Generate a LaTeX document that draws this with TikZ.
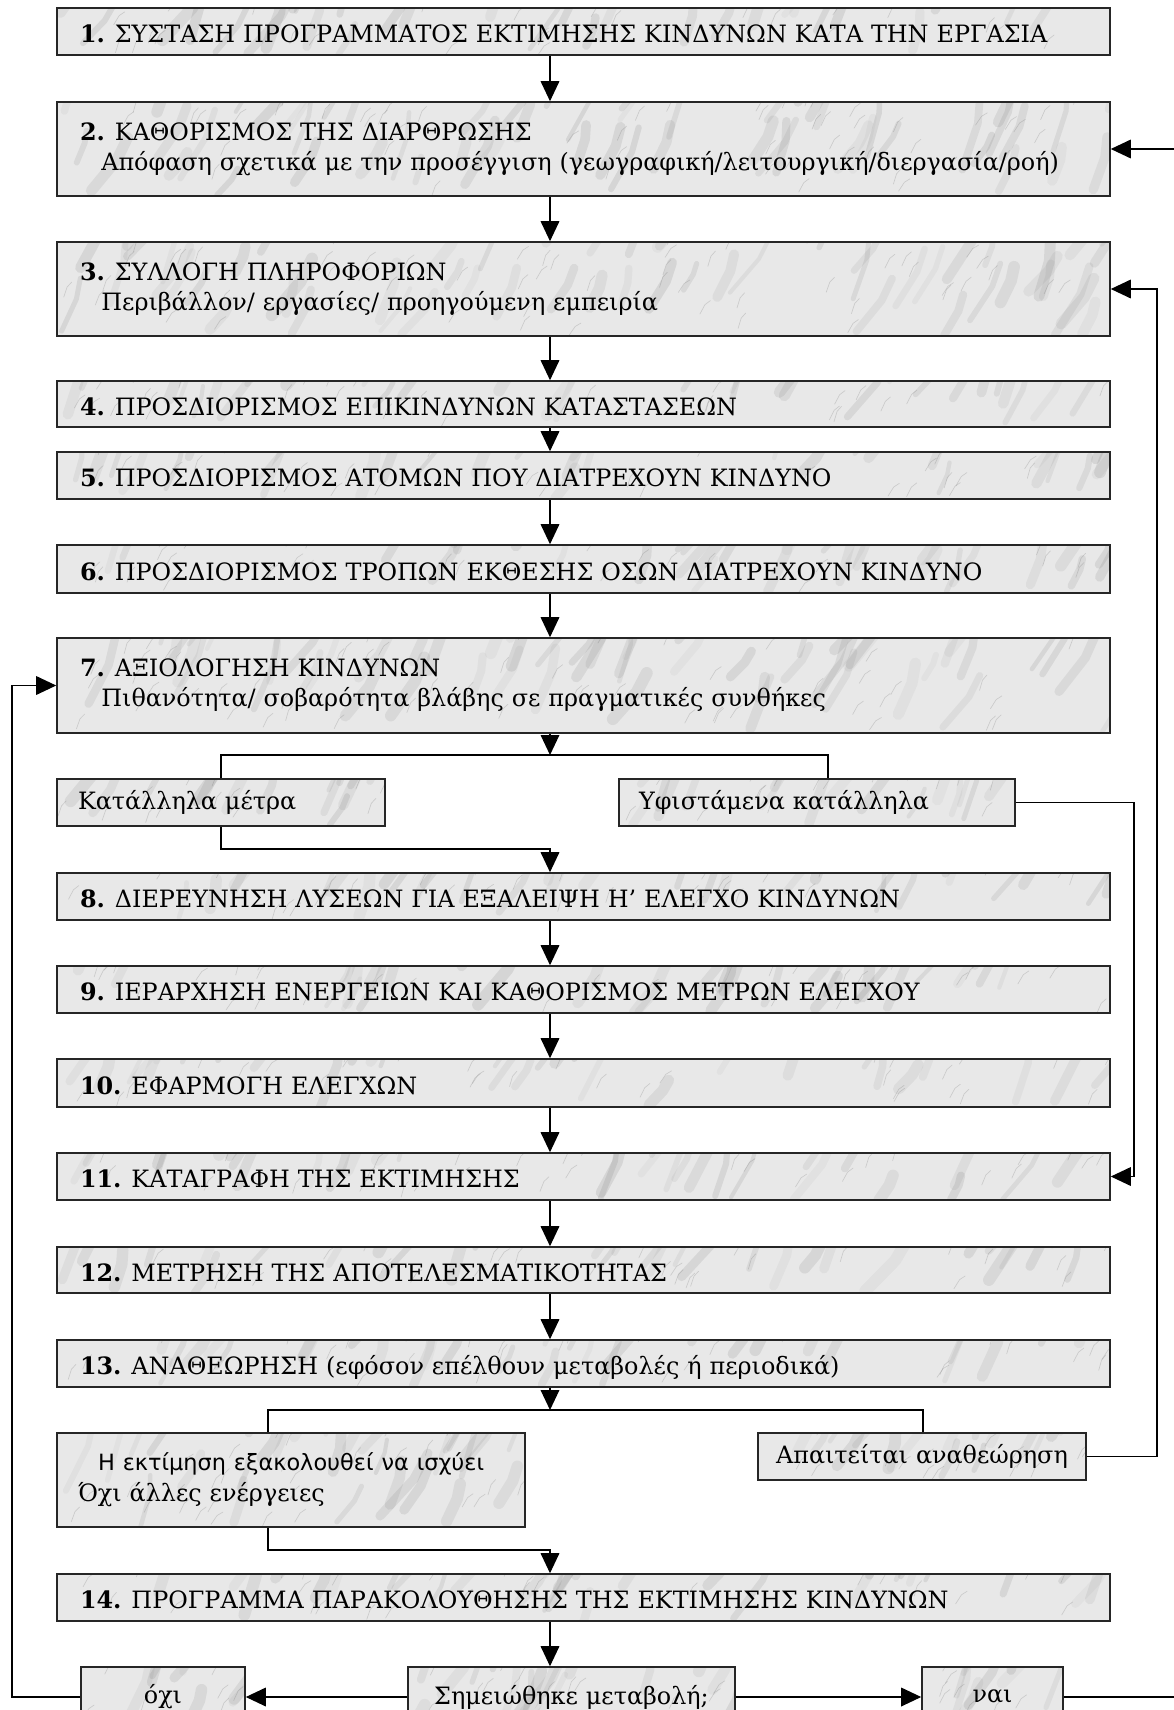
\documentclass[tikz,border=0pt]{standalone}
\usepackage{fontspec}
\setmainfont{DejaVu Serif}
\newfontfamily\gsans{DejaVu Sans}
\usetikzlibrary{arrows.meta,calc}

% marble veining inside every box: broad soft clouds plus a few fine dark veins
\newcommand\marblestreaks[1]{%
  \foreach \k in {1,...,#1}{%
    \pgfmathsetmacro\mx{rnd}%
    \pgfmathsetmacro\my{rnd}%
    \pgfmathsetmacro\ma{45+30*rnd}%
    \pgfmathsetmacro\ml{12+26*rnd}%
    \pgfmathsetmacro\mw{3+6*rnd}%
    \pgfmathsetmacro\mo{0.04+0.08*rnd}%
    \draw[line width=\mw pt, draw opacity=\mo, black!70, line cap=round, line join=round]
      let \p1=(path picture bounding box.south west),
          \p2=(path picture bounding box.north east)
      in ({\x1+\mx*(\x2-\x1)},{\y1+\my*(\y2-\y1)}) -- ++(\ma:\ml pt) -- ++(\ma+14:0.6*\ml pt);
    \pgfmathsetmacro\nx{rnd}%
    \pgfmathsetmacro\ny{rnd}%
    \pgfmathsetmacro\na{55+20*rnd}%
    \draw[line width=0.5pt, draw opacity=0.16, black!80, line cap=round]
      let \p1=(path picture bounding box.south west),
          \p2=(path picture bounding box.north east)
      in ({\x1+\nx*(\x2-\x1)},{\y1+\ny*(\y2-\y1)}) -- ++(\na:8pt) -- ++(\na-25:5pt);
  }}

\newcommand\mainsz{\fontsize{17.9}{22.5}\selectfont}
\newcommand\sanssz{\gsans\fontsize{16.8}{23.5}\selectfont}
\newcommand\stepno[1]{\textbf{#1}\hspace{-1.5pt}}

% box from pixel corners (x1,y1)-(x2,y2) with side padding
% #1 options, #2 name, #3 x1, #4 y1, #5 x2, #6 y2, #7 padding, #8 text
\newcommand\flowbox[8][]{%
  \pgfmathsetmacro\fbw{(#5-#3-2*#7)*0.75}%
  \pgfmathsetmacro\fbh{(#6-#4)*0.75}%
  \pgfmathsetmacro\fbp{#7*0.75}%
  \node[box, text width=\fbw pt, minimum height=\fbh pt, inner xsep=\fbp pt, #1]
    (#2) at ({(#3+#5)/2},{(#4+#6)/2}) {#8};}

\tikzset{
  box/.style={rectangle, draw=black!85, line width=1.2pt, fill=black!9,
    inner ysep=0pt, align=left, font=\mainsz, path picture={\marblestreaks{#1}}},
  box/.default=30,
  oneline/.style={text height=17pt, text depth=0pt},
  link/.style={line width=0.9pt, draw=black},
  flow/.style={link, -{Triangle[length=15pt,width=14pt]}},
}

\begin{document}
\begin{tikzpicture}[x=0.75pt, y=-0.75pt]
\pgfmathsetseed{4711}
\useasboundingbox (0,0) rectangle (1174,1710);
\clip (0,0) rectangle (1174,1710);

% main column of steps
\flowbox[oneline]{b1}{57}{8}{1110}{55}{23}{\stepno{1.} ΣΥΣΤΑΣΗ ΠΡΟΓΡΑΜΜΑΤΟΣ ΕΚΤΙΜΗΣΗΣ ΚΙΝΔΥΝΩΝ ΚΑΤΑ ΤΗΝ ΕΡΓΑΣΙΑ}
\flowbox[box=55]{b2}{57}{102}{1110}{196}{23}{\stepno{2.} ΚΑΘΟΡΙΣΜΟΣ ΤΗΣ ΔΙΑΡΘΡΩΣΗΣ\\\hspace*{16pt}Απόφαση σχετικά με την προσέγγιση (γεωγραφική/λειτουργική/διεργασία/ροή)}
\flowbox[box=55]{b3}{57}{242}{1110}{336}{23}{\stepno{3.} ΣΥΛΛΟΓΗ ΠΛΗΡΟΦΟΡΙΩΝ\\\hspace*{16pt}Περιβάλλον/ εργασίες/ προηγούμενη εμπειρία}
\flowbox[oneline]{b4}{57}{381}{1110}{427}{23}{\stepno{4.} ΠΡΟΣΔΙΟΡΙΣΜΟΣ ΕΠΙΚΙΝΔΥΝΩΝ ΚΑΤΑΣΤΑΣΕΩΝ}
\flowbox[oneline]{b5}{57}{452}{1110}{499}{23}{\stepno{5.} ΠΡΟΣΔΙΟΡΙΣΜΟΣ ΑΤΟΜΩΝ ΠΟΥ ΔΙΑΤΡΕΧΟΥΝ ΚΙΝΔΥΝΟ}
\flowbox[oneline]{b6}{57}{545}{1110}{593}{23}{\stepno{6.} ΠΡΟΣΔΙΟΡΙΣΜΟΣ ΤΡΟΠΩΝ ΕΚΘΕΣΗΣ ΟΣΩΝ ΔΙΑΤΡΕΧΟΥΝ ΚΙΝΔΥΝΟ}
\flowbox[box=55]{b7}{57}{638}{1110}{733}{23}{\stepno{7.} ΑΞΙΟΛΟΓΗΣΗ ΚΙΝΔΥΝΩΝ\\\hspace*{16pt}Πιθανότητα/ σοβαρότητα βλάβης σε πραγματικές συνθήκες}
\flowbox[box=14]{kat}{57}{779}{385}{826}{21}{Κατάλληλα μέτρα}
\flowbox[box=16]{yf}{619}{779}{1015}{826}{20}{Υφιστάμενα κατάλληλα}
\flowbox[oneline]{b8}{57}{873}{1110}{920}{23}{\stepno{8.} ΔΙΕΡΕΥΝΗΣΗ ΛΥΣΕΩΝ ΓΙΑ ΕΞΑΛΕΙΨΗ Η’ ΕΛΕΓΧΟ ΚΙΝΔΥΝΩΝ}
\flowbox[oneline]{b9}{57}{966}{1110}{1013}{23}{\stepno{9.} ΙΕΡΑΡΧΗΣΗ ΕΝΕΡΓΕΙΩΝ ΚΑΙ ΚΑΘΟΡΙΣΜΟΣ ΜΕΤΡΩΝ ΕΛΕΓΧΟΥ}
\flowbox[oneline]{b10}{57}{1059}{1110}{1107}{23}{\stepno{10.} ΕΦΑΡΜΟΓΗ ΕΛΕΓΧΩΝ}
\flowbox[oneline]{b11}{57}{1153}{1110}{1200}{23}{\stepno{11.} ΚΑΤΑΓΡΑΦΗ ΤΗΣ ΕΚΤΙΜΗΣΗΣ}
\flowbox[oneline]{b12}{57}{1247}{1110}{1293}{23}{\stepno{12.} ΜΕΤΡΗΣΗ ΤΗΣ ΑΠΟΤΕΛΕΣΜΑΤΙΚΟΤΗΤΑΣ}
\flowbox[oneline]{b13}{57}{1340}{1110}{1387}{23}{\stepno{13.} ΑΝΑΘΕΩΡΗΣΗ (εφόσον επέλθουν μεταβολές ή περιοδικά)}
\flowbox[box=30, font=\fontsize{17.9}{23.5}\selectfont]{hold}{57}{1433}{525}{1527}{21}{\hspace*{15pt}{\sanssz Η εκτίμηση εξακολουθεί να ισχύει}\\Όχι άλλες ενέργειες}
\flowbox[box=16, align=center]{apait}{758}{1433}{1086}{1480}{18}{Απαιτείται αναθεώρηση}
\flowbox[oneline]{b14}{57}{1574}{1110}{1621}{23}{\stepno{14.} ΠΡΟΓΡΑΜΜΑ ΠΑΡΑΚΟΛΟΥΘΗΣΗΣ ΤΗΣ ΕΚΤΙΜΗΣΗΣ ΚΙΝΔΥΝΩΝ}

% decision row
\flowbox[box=8, align=center]{oxi}{81}{1667}{245}{1727}{10}{όχι}
\flowbox[box=16, align=center]{sim}{408}{1667}{735}{1727}{10}{Σημειώθηκε μεταβολή;}
\flowbox[box=8, align=center]{nai}{922}{1667}{1063}{1727}{10}{ναι}

% routing guides
\coordinate (col) at (550,0);
\coordinate (split7) at (550,755);
\coordinate (split7r) at (828,755);
\coordinate (join8) at (550,849);
\coordinate (split13) at (550,1410);
\coordinate (split13l) at (268,1410);
\coordinate (split13r) at (923,1410);
\coordinate (join14) at (550,1550);
\coordinate (rB) at (1134,0);
\coordinate (rA) at (1157,0);
\coordinate (rO) at (1190,0);
\coordinate (lA) at (12,0);

% straight flow down the column
\foreach \a/\b in {b1/b2, b2/b3, b3/b4, b4/b5, b5/b6, b6/b7, b8/b9, b9/b10, b10/b11, b11/b12, b12/b13, b14/sim}
  \draw[flow] (\a.south -| col) -- (\b.north -| col);

% branch after step 7
\draw[flow] (b7.south -| col) -- (split7);
\draw[link] (kat.north) |- (split7r) -- (split7r |- yf.north);
\draw[flow] (kat.south) |- (join8) -- (b8.north -| col);
\draw[flow] (yf.east) -- (yf.east -| rB) |- (b11.east);

% branch after step 13
\draw[flow] (b13.south -| col) -- (split13);
\draw[link] (split13l |- hold.north) -- (split13l) -- (split13r) -- (split13r |- apait.north);
\draw[flow] (split13l |- hold.south) |- (join14) -- (b14.north -| col);
\draw[flow] (apait.east) -- (apait.east -| rA) |- (b3.east);

% change decision
\draw[flow] (sim.west) -- (oxi.east);
\draw[flow] (sim.east) -- (nai.west);
\draw[flow] (oxi.west) -- (oxi.west -| lA) |- (b7.west);
\draw[flow] (nai.east) -- (nai.east -| rO) |- (b2.east);
\end{tikzpicture}
\end{document}
